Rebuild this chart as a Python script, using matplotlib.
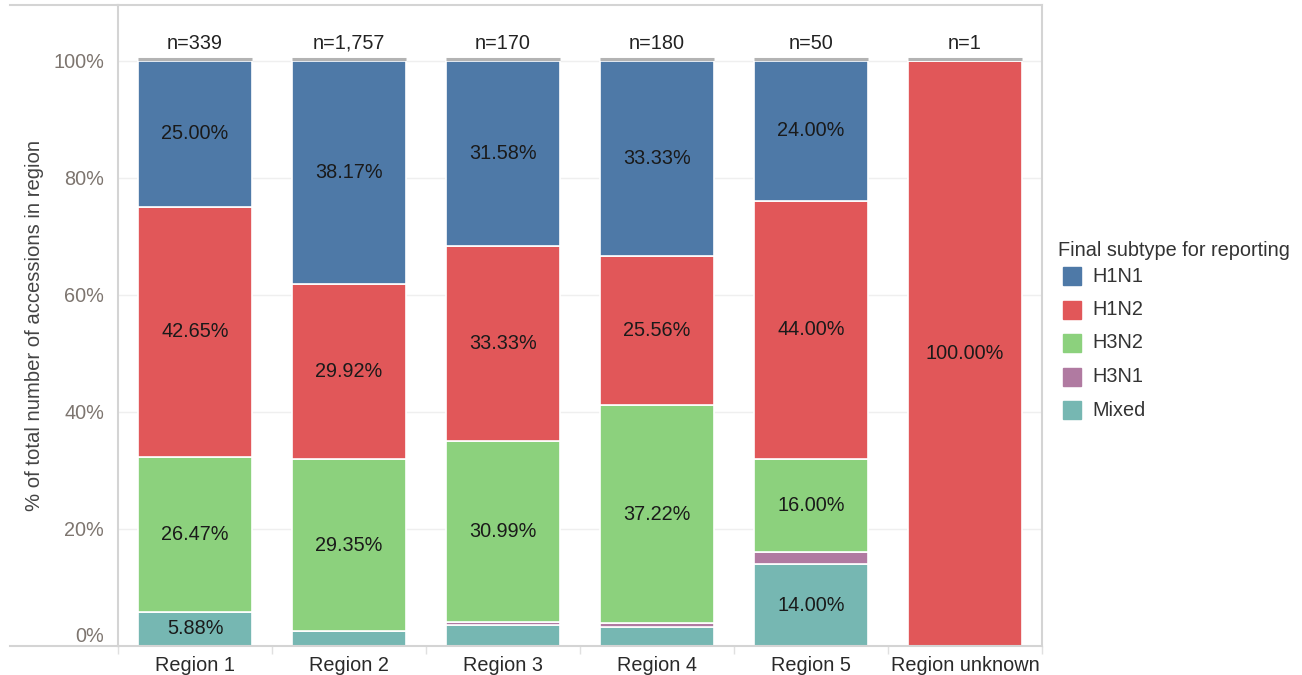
import matplotlib
matplotlib.use("Agg")
import matplotlib.pyplot as plt
from matplotlib.patches import Rectangle
from matplotlib.lines import Line2D
import numpy as np

plt.rcParams['font.family'] = ['Liberation Sans', 'DejaVu Sans']

# ---- data ----
regions = ["Region 1", "Region 2", "Region 3", "Region 4", "Region 5", "Region unknown"]
n_labels = ["n=339", "n=1,757", "n=170", "n=180", "n=50", "n=1"]
subtypes = ["H1N1", "H1N2", "H3N2", "H3N1", "Mixed"]
colors = ["#4e79a7", "#e15759", "#8cd17d", "#b07aa1", "#76b7b2"]
# stacking order from bottom: Mixed, H3N1, H3N2, H1N2, H1N1
mixed = [5.88, 2.56, 3.51, 3.33, 14.00, 0.0]
h3n1 = [0.0, 0.0, 0.58, 0.56, 2.00, 0.0]
h3n2 = [26.47, 29.35, 30.99, 37.22, 16.00, 0.0]
h1n2 = [42.65, 29.92, 33.33, 25.56, 44.00, 100.00]
h1n1 = [25.00, 38.17, 31.58, 33.33, 24.00, 0.0]
yticks = [0, 20, 40, 60, 80, 100]
ytick_labels = ["0%", "20%", "40%", "60%", "80%", "100%"]

W, H = 1302, 675
fig = plt.figure(figsize=(W / 100, H / 100), dpi=100)
ax = fig.add_axes([118 / W, 1 - 646 / H, (1042 - 118) / W, (646 - 5) / H])

x = np.arange(len(regions))
width = 0.745
stack = [("Mixed", mixed), ("H3N1", h3n1), ("H3N2", h3n2), ("H1N2", h1n2), ("H1N1", h1n1)]
cmap = dict(zip(subtypes, colors))
bottom = np.zeros(len(regions))
for name, vals in stack:
    vals = np.array(vals)
    ax.bar(x, vals, width, bottom=bottom, color=cmap[name], edgecolor="white",
           linewidth=1.2, zorder=2)
    for xi, b, v in zip(x, bottom, vals):
        if v >= 5:
            ax.text(xi, b + v / 2, f"{v:.2f}%", ha="center", va="center",
                    fontsize=14.3, color="#1a1a1a", zorder=4)
    bottom += vals

# thin grey cap line at top of each bar
for xi in x:
    ax.plot([xi - width / 2, xi + width / 2], [100.35, 100.35], color="#b3b3b3",
            lw=2.2, solid_capstyle="butt", zorder=3)

for xi, lab in zip(x, n_labels):
    ax.text(xi, 103.0, lab, ha="center", va="center", fontsize=14.3, color="#222222")

ax.set_xlim(-0.5, len(regions) - 0.5)
ax.set_ylim(0, 109.5)
ax.set_yticks(yticks)
ax.set_yticklabels(ytick_labels)
ax.set_xticks(x)
ax.set_xticklabels(regions)
ax.set_xticks(np.arange(-0.5, len(regions) + 0.5, 1), minor=True)
ax.tick_params(axis="x", which="major", length=0, pad=7.5, labelsize=14.3, labelcolor="#2a2a2a")
ax.tick_params(axis="x", which="minor", length=6, color="#e0e0e0", width=1)
ax.tick_params(axis="y", length=0, pad=10, labelsize=14.3, labelcolor="#7d756f")
ax.get_yticklabels()[0].set_va("bottom")
ax.grid(axis="y", color="#efefef", lw=1, zorder=0)
ax.set_axisbelow(True)

for s in ["top", "bottom", "right", "left"]:
    ax.spines[s].set_color("#d4d4d4")
    ax.spines[s].set_linewidth(1.5)

ax.set_ylabel("% of total number of accessions in region", fontsize=14.6, color="#444444",
              labelpad=0)
ax.yaxis.set_label_coords(-74 / (1042 - 118), 0.5)

# frame extension to the left
fig.add_artist(Line2D([10 / W, 118 / W], [1 - 5 / H, 1 - 5 / H], color="#d4d4d4", lw=1.5))
fig.add_artist(Line2D([10 / W, 118 / W], [1 - 646 / H, 1 - 646 / H], color="#d4d4d4", lw=1.5))

# legend
fig.text(1058 / W, 1 - 250 / H, "Final subtype for reporting", fontsize=14.3, color="#333333",
         ha="left", va="center")
for i, (name, c) in enumerate(zip(subtypes, colors)):
    yc = 276 + i * 33.5
    fig.add_artist(Rectangle((1063 / W, 1 - (yc + 9) / H), 18 / W, 18 / H, color=c,
                             transform=fig.transFigure))
    fig.text(1092 / W, 1 - yc / H, name, fontsize=14.3, color="#333333", ha="left", va="center")

fig.savefig("out.png", dpi=100)
